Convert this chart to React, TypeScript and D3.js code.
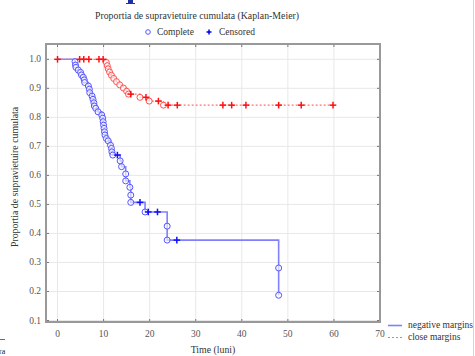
import React from 'react';
import * as d3 from 'd3';

// negative margins (blue, solid)
const blueEventTimes = [3.8, 3.9, 4.0, 4.5, 5.0, 5.2, 5.6, 5.8, 5.9, 6.7, 6.9, 7.0, 7.5, 7.7, 7.9, 8.0, 8.3, 8.8, 9.6, 9.8, 9.9, 10.0, 10.1, 10.2, 10.3, 10.6, 11.0, 11.5, 11.7, 11.8, 12.0, 13.6, 13.9, 14.8, 14.8, 15.7, 15.9, 15.9, 19.0, 23.8, 23.8, 48.0, 48.0];
const blueEventSurv = [0.992, 0.98, 0.972, 0.963, 0.955, 0.946, 0.938, 0.929, 0.92, 0.908, 0.897, 0.885, 0.873, 0.862, 0.85, 0.839, 0.831, 0.819, 0.808, 0.797, 0.785, 0.773, 0.762, 0.75, 0.739, 0.727, 0.719, 0.704, 0.693, 0.681, 0.67, 0.65, 0.63, 0.605, 0.581, 0.559, 0.532, 0.507, 0.474, 0.425, 0.377, 0.281, 0.187];
const blueCensorTimes = [13.0, 17.9, 19.7, 21.7, 25.9];
const blueEnd = 48;

// close margins (red, dashed)
const redEventTimes = [10.6, 10.8, 11.0, 11.3, 11.7, 12.2, 12.8, 13.5, 14.3, 15.0, 15.4, 17.9, 19.9, 23.0];
const redEventSurv = [0.989, 0.978, 0.967, 0.956, 0.945, 0.934, 0.923, 0.912, 0.901, 0.89, 0.88, 0.869, 0.856, 0.842];
const redCensorTimes = [0, 4.8, 5.7, 6.8, 9.0, 9.9, 15.9, 19.2, 21.9, 24.0, 26.0, 35.9, 37.8, 40.9, 48.0, 52.9, 59.8];
const redEnd = 60;

const xTicks = [0, 10, 20, 30, 40, 50, 60, 70];
const yTicks = [0.1, 0.2, 0.3, 0.4, 0.5, 0.6, 0.7, 0.8, 0.9, 1.0];

const FONT = '"Liberation Serif", "DejaVu Serif", serif';

function stepPoints(times: number[], surv: number[], end: number): [number, number][] {
  const pts: [number, number][] = [[0, 1]];
  let s = 1;
  times.forEach((t, i) => {
    pts.push([t, s]);
    s = surv[i];
    pts.push([t, s]);
  });
  pts.push([end, s]);
  return pts;
}

function survAt(times: number[], surv: number[], t: number) {
  let s = 1;
  times.forEach((et, i) => {
    if (et <= t) s = surv[i];
  });
  return s;
}

function Plus({ cx, cy, color }: { cx: number; cy: number; color: string }) {
  const a = 3.3;
  return (
    <g stroke={color} strokeWidth={1.5}>
      <line x1={cx - a} x2={cx + a} y1={cy} y2={cy} />
      <line x1={cx} x2={cx} y1={cy - a} y2={cy + a} />
    </g>
  );
}

export default function App() {
  const left = 46, right = 380, top = 44, bottom = 322;
  const x = d3.scaleLinear().domain([-2.5, 70]).range([left, right]);
  const y = d3.scaleLinear().domain([0.1, 1.0]).range([320.5, 59.3]);

  const line = d3.line<[number, number]>()
    .x(d => x(d[0]))
    .y(d => y(d[1]));

  const bluePath = line(stepPoints(blueEventTimes, blueEventSurv, blueEnd)) || '';
  const redPath = line(stepPoints(redEventTimes, redEventSurv, redEnd)) || '';

  const blueCol = '#8080ff';
  const blueMark = '#5555ff';
  const redCol = '#ff7070';
  const redMark = '#ff5050';

  return (
    <svg width={475} height={356} style={{ position: 'absolute', left: 0, top: 0, background: '#fff' }}
      fontFamily={FONT}>
      {/* stray slide artifacts */}
      <rect x={128} y={0} width={5} height={3} fill="#2030a0" />
      <rect x={126} y={3} width={9} height={1} fill="#2030a0" />
      <line x1={0} x2={5} y1={339.5} y2={339.5} stroke="#6060c0" strokeWidth={1} />
      <text x={-1} y={354} fontSize={8} fill="#222">ra</text>
      <line x1={473.5} x2={473.5} y1={0} y2={356} stroke="#ffc0c0" strokeWidth={1} />

      {/* title and legend */}
      <text x={197} y={19} textAnchor="middle" fontSize={9.8} fill="#333">
        Proportia de supravietuire cumulata (Kaplan-Meier)
      </text>
      <circle cx={148} cy={32} r={2.3} fill="none" stroke={blueMark} strokeWidth={1} />
      <text x={157} y={35} fontSize={9.5} fill="#333">Complete</text>
      <g transform="translate(209,32)">
        <line x1={-2.5} x2={2.5} y1={0} y2={0} stroke="#0000e0" strokeWidth={1.5} />
        <line x1={0} x2={0} y1={-2.5} y2={2.5} stroke="#0000e0" strokeWidth={1.5} />
      </g>
      <text x={219} y={35} fontSize={9.5} fill="#333">Censored</text>

      {/* grid */}
      {xTicks.map(t => (
        <line key={'gx' + t} x1={x(t)} x2={x(t)} y1={top} y2={bottom} stroke="#e8e8e8" strokeWidth={1} />
      ))}
      {yTicks.map(t => (
        <line key={'gy' + t} x1={left} x2={right} y1={y(t)} y2={y(t)} stroke="#e8e8e8" strokeWidth={1} />
      ))}

      {/* ticks */}
      {xTicks.map(t => (
        <g key={'tx' + t} stroke="#777" strokeWidth={1}>
          <line x1={x(t)} x2={x(t)} y1={bottom} y2={bottom - 3} />
          <line x1={x(t)} x2={x(t)} y1={top} y2={top + 3} />
        </g>
      ))}
      {yTicks.map(t => (
        <g key={'ty' + t} stroke="#777" strokeWidth={1}>
          <line x1={left} x2={left + 3} y1={y(t)} y2={y(t)} />
          <line x1={right} x2={right - 3} y1={y(t)} y2={y(t)} />
        </g>
      ))}

      {/* frame */}
      <rect x={left} y={top} width={right - left} height={bottom - top} fill="none" stroke="#999" strokeWidth={2} />

      {/* tick labels */}
      {xTicks.map(t => (
        <text key={'lx' + t} x={x(t)} y={337} textAnchor="middle" fontSize={9.5} fill="#555">{t}</text>
      ))}
      {yTicks.map(t => (
        <text key={'ly' + t} x={41} y={y(t) + 3} textAnchor="end" fontSize={9.5} fill="#555">{t.toFixed(1)}</text>
      ))}

      {/* axis titles */}
      <text x={213} y={353} textAnchor="middle" fontSize={9.8} fill="#333">Time (luni)</text>
      <text transform="translate(18,177) rotate(-90)" textAnchor="middle" fontSize={9.8} fill="#333">
        Proportia de supravietuire cumulata
      </text>

      {/* curves */}
      <path d={bluePath} fill="none" stroke={blueCol} strokeWidth={1.6} />
      <path d={redPath} fill="none" stroke={redCol} strokeWidth={1.3} strokeDasharray="2,2" />

      {blueEventTimes.map((t, i) => (
        <circle key={'bc' + i} cx={x(t)} cy={y(blueEventSurv[i])} r={3} fill="#fff" fillOpacity={0.6} stroke={blueMark} strokeWidth={1} />
      ))}
      {redEventTimes.map((t, i) => (
        <circle key={'rc' + i} cx={x(t)} cy={y(redEventSurv[i])} r={3} fill="#fff" fillOpacity={0.6} stroke={redMark} strokeWidth={1} />
      ))}
      {blueCensorTimes.map((t, i) => (
        <Plus key={'bp' + i} cx={x(t)} cy={y(survAt(blueEventTimes, blueEventSurv, t))} color="#1010ff" />
      ))}
      {redCensorTimes.map((t, i) => (
        <Plus key={'rp' + i} cx={x(t)} cy={y(survAt(redEventTimes, redEventSurv, t))} color="#ff1010" />
      ))}

      {/* right legend */}
      <line x1={388} x2={402} y1={325.5} y2={325.5} stroke={blueCol} strokeWidth={1.6} />
      <text x={408} y={328} fontSize={9.5} fill="#333">negative margins</text>
      <line x1={388} x2={402} y1={337.5} y2={337.5} stroke={redCol} strokeWidth={1.2} strokeDasharray="2,2" />
      <text x={408} y={340} fontSize={9.5} fill="#333">close margins</text>
    </svg>
  );
}
